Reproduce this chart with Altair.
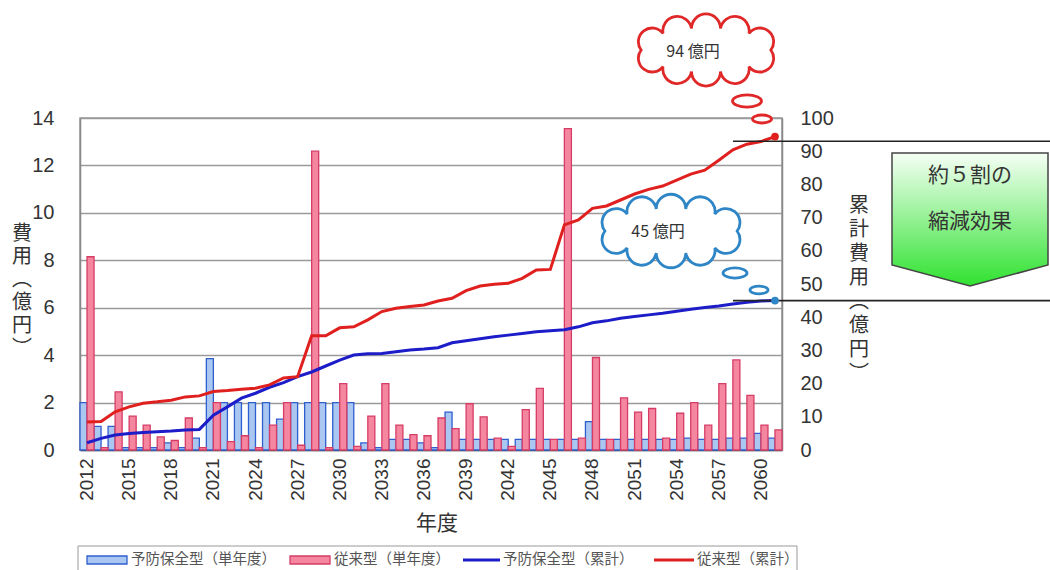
import altair as alt
import numpy as np
import pandas as pd

# ---------------- data ----------------
years = list(range(2012, 2062))
tick_years = list(range(2012, 2061, 3))
left_ticks = [0, 2, 4, 6, 8, 10, 12, 14]
right_ticks = [0, 10, 20, 30, 40, 50, 60, 70, 80, 90, 100]

series_names = ["予防保全型（単年度）", "従来型（単年度）", "予防保全型（累計）", "従来型（累計）"]

preventive_single = [
    2.0, 1.0, 1.0, 0.1, 0.1, 0.1, 0.3, 0.1, 0.5, 3.85,
    2.0, 2.0, 2.0, 2.0, 1.3, 2.0, 2.0, 2.0, 2.0, 2.0,
    0.3, 0.1, 0.45, 0.45, 0.3, 0.1, 1.6, 0.45, 0.45, 0.45,
    0.45, 0.45, 0.45, 0.45, 0.45, 0.45, 1.2, 0.45, 0.45, 0.45,
    0.45, 0.45, 0.45, 0.5, 0.45, 0.45, 0.5, 0.5, 0.7, 0.5,
]
conventional_single = [
    8.15, 0.1, 2.45, 1.43, 1.05, 0.55, 0.4, 1.35, 0.1, 2.0,
    0.35, 0.6, 0.1, 1.05, 2.0, 0.2, 12.6, 0.1, 2.8, 0.15,
    1.43, 2.8, 1.05, 0.65, 0.6, 1.35, 0.9, 1.95, 1.4, 0.5,
    0.15, 1.7, 2.6, 0.45, 13.55, 0.5, 3.9, 0.45, 2.2, 1.6,
    1.75, 0.5, 1.55, 2.0, 1.05, 2.8, 3.8, 2.3, 1.05, 0.85,
]
preventive_cum = [
    2.2, 3.5, 4.5, 5.0, 5.3, 5.5, 5.7, 6.0, 6.2, 10.5,
    13.0, 15.6, 17.1, 18.9, 20.3, 22.1, 23.5, 25.3, 27.1, 28.6,
    29.0, 29.1, 29.6, 30.1, 30.4, 30.8, 32.3, 32.9, 33.5, 34.1,
    34.6, 35.1, 35.6, 35.9, 36.2, 37.1, 38.3, 38.9, 39.7, 40.2,
    40.7, 41.2, 41.8, 42.4, 42.9, 43.4, 44.0, 44.5, 44.9, 45.0,
]
conventional_cum = [
    8.4, 8.6, 11.5, 13.0, 14.1, 14.5, 15.0, 16.0, 16.3, 17.6,
    17.9, 18.3, 18.6, 19.6, 21.7, 22.1, 34.4, 34.4, 36.8, 37.1,
    39.2, 41.7, 42.7, 43.2, 43.7, 44.9, 45.7, 48.0, 49.4, 49.9,
    50.2, 51.7, 54.2, 54.4, 67.8, 69.3, 72.8, 73.5, 75.3, 77.1,
    78.5, 79.5, 81.3, 83.1, 84.3, 87.3, 90.4, 92.1, 92.9, 94.4,
]
guide_values = [93.0, 45.0]
cloud_labels = ["94 億円", "45 億円"]
reduction_text = ["約５割の", "縮減効果"]
left_title = ["費", "用", "︵", "億", "円", "︶"]
right_title = ["累", "計", "費", "用", "︵", "億", "円", "︶"]
x_title = "年度"

# ---------------- layout ----------------
W, H = 702, 332
PL, PT = 80, 118
JP = "Noto Sans CJK JP"
NUM = "Liberation Sans"

BLUE_FILL, BLUE_EDGE = "#a9c7f0", "#2f5fcf"
PINK_FILL, PINK_EDGE = "#f4879f", "#d63c66"
BLUE_LINE, RED_LINE = "#1c1cc8", "#e0201e"
CLOUD_RED, CLOUD_BLUE = "#e02828", "#2f86c6"


def px(x, y):
    return dict(x=alt.value(x - PL), y=alt.value(y - PT))


one = alt.Data(values=[{}])

bars_df = pd.DataFrame({
    "year": years * 2,
    "series": [series_names[0]] * len(years) + [series_names[1]] * len(years),
    "value": preventive_single + conventional_single,
})
blue_cum_df = pd.DataFrame({"year": years, "value": preventive_cum})
red_cum_df = pd.DataFrame({"year": years, "value": conventional_cum})
guide_df = pd.DataFrame({"value": guide_values})

x_enc = alt.X(
    "year:O",
    scale=alt.Scale(paddingInner=0, paddingOuter=0),
    axis=alt.Axis(values=tick_years, labelAngle=-90, labelFontSize=19, labelFont=NUM,
                  labelColor="#333", labelPadding=8, tickSize=0, domainColor="#555",
                  domainWidth=1.5, title=None, grid=False),
)

bars = alt.Chart(bars_df).mark_bar(strokeWidth=1.3, opacity=1).encode(
    x=x_enc,
    xOffset=alt.XOffset("series:N", sort=series_names[:2],
                        scale=alt.Scale(paddingInner=0, paddingOuter=0)),
    y=alt.Y("value:Q", scale=alt.Scale(domain=[0, 14], nice=False),
            axis=alt.Axis(values=left_ticks, labelFontSize=20, labelFont=NUM, labelColor="#333",
                          labelPadding=26, tickSize=0, domainColor="#888", domainWidth=1.5,
                          grid=True, gridColor="#9a9a9a", gridWidth=1.5, title=None)),
    fill=alt.Fill("series:N", scale=alt.Scale(domain=series_names[:2], range=[BLUE_FILL, PINK_FILL]),
                  legend=None),
    stroke=alt.Stroke("series:N", scale=alt.Scale(domain=series_names[:2], range=[BLUE_EDGE, PINK_EDGE]),
                      legend=None),
)

y_right = alt.Y("value:Q", scale=alt.Scale(domain=[0, 100], nice=False),
                axis=alt.Axis(orient="right", values=right_ticks, labelFontSize=20, labelFont=NUM,
                              labelColor="#333", labelPadding=18, tickSize=0, domainColor="#888",
                              domainWidth=1.5, grid=False, title=None))

line_blue = alt.Chart(blue_cum_df).mark_line(color=BLUE_LINE, strokeWidth=3).encode(x="year:O", y=y_right)
line_red = alt.Chart(red_cum_df).mark_line(color=RED_LINE, strokeWidth=3).encode(x="year:O", y=y_right)
guides = alt.Chart(guide_df).mark_rule(color="#222", strokeWidth=1.6).encode(
    y=y_right, x=alt.value(733 - PL), x2=alt.value(1050 - PL))
dot_red = alt.Chart(red_cum_df.tail(1)).mark_point(filled=True, color=RED_LINE, size=60, opacity=1).encode(
    x="year:O", y=y_right)
dot_blue = alt.Chart(blue_cum_df.tail(1)).mark_point(filled=True, color=CLOUD_BLUE, size=60, opacity=1).encode(
    x="year:O", y=y_right)

right_layer = alt.layer(line_blue, line_red, guides, dot_red, dot_blue)


# ---------------- annotations ----------------
def cloud_path(n=10, a=0.82, b=0.28, k=0.5):
    t = np.linspace(0, 2 * np.pi, 4000)
    xs, ys = a * np.cos(t), b * np.sin(t)
    s = np.concatenate([[0], np.cumsum(np.hypot(np.diff(xs), np.diff(ys)))])
    ti = np.interp(np.linspace(0, s[-1], n + 1), s, t)
    ptx, pty = a * np.cos(ti), b * np.sin(ti)
    d = f"M {ptx[0]:.4f} {pty[0]:.4f}"
    for i in range(1, n + 1):
        c = np.hypot(ptx[i] - ptx[i - 1], pty[i] - pty[i - 1])
        r = c * k
        d += f" A {r:.4f} {r:.4f} 0 0 1 {ptx[i]:.4f} {pty[i]:.4f}"
    return d + " Z"


CLOUD = cloud_path()
OVAL = "M -1 0 A 1 0.42 0 1 1 1 0 A 1 0.42 0 1 1 -1 0 Z"
ARROW = "M -1 -0.853 L 1 -0.853 L 1 0.583 L 0 0.853 L -1 0.583 Z"


def shape(x, y, path, size, stroke, fill="white", sw=2.8):
    return alt.Chart(one).mark_point(shape=path, size=size, filled=False, fill=fill, stroke=stroke,
                                     strokeWidth=sw, opacity=1, fillOpacity=1).encode(**px(x, y))


def label(x, y, text, size=16, color="#333", font=JP, align="center", baseline="middle", **kw):
    return alt.Chart(one).mark_text(text=text, fontSize=size, font=font, color=color, align=align,
                                    baseline=baseline, **kw).encode(**px(x, y))


annotations = [
    shape(706, 50, CLOUD, 25000, CLOUD_RED),
    shape(747, 101, OVAL, 841, CLOUD_RED),
    shape(762, 119, OVAL, 361, CLOUD_RED),
    label(693, 52, cloud_labels[0], size=16),
    shape(671, 231, CLOUD, 26000, CLOUD_BLUE),
    shape(735, 273, OVAL, 576, CLOUD_BLUE),
    shape(759, 290, OVAL, 324, CLOUD_BLUE),
    label(658, 232, cloud_labels[1], size=16),
    alt.Chart(one).mark_point(
        shape=ARROW, size=24336, filled=True, opacity=1, stroke="#444", strokeWidth=1.5,
        fill={"gradient": "linear", "x1": 0, "y1": 0, "x2": 0, "y2": 1,
              "stops": [{"offset": 0, "color": "#f6fff6"}, {"offset": 1, "color": "#2fe22f"}]},
    ).encode(**px(970, 219.5)),
    label(970, 176, reduction_text[0], size=21),
    label(970, 222, reduction_text[1], size=21),
    label(22, 224, left_title, size=20, baseline="top", lineHeight=23),
    label(859, 196, right_title, size=20, baseline="top", lineHeight=24),
    label(437, 524, x_title, size=21),
    # legend
    alt.Chart(one).mark_rect(fill="white", fillOpacity=0, stroke="#999", strokeWidth=1).encode(
        x=alt.value(78 - PL), x2=alt.value(797 - PL), y=alt.value(546 - PT), y2=alt.value(578 - PT)),
    alt.Chart(one).mark_rect(fill=BLUE_FILL, stroke=BLUE_EDGE, strokeWidth=1.3).encode(
        x=alt.value(87 - PL), x2=alt.value(127 - PL), y=alt.value(556 - PT), y2=alt.value(564 - PT)),
    label(131, 560, series_names[0], size=14.5, color="#555", align="left"),
    alt.Chart(one).mark_rect(fill=PINK_FILL, stroke=PINK_EDGE, strokeWidth=1.3).encode(
        x=alt.value(290 - PL), x2=alt.value(330 - PL), y=alt.value(556 - PT), y2=alt.value(564 - PT)),
    label(334, 560, series_names[1], size=14.5, color="#555", align="left"),
    alt.Chart(one).mark_rule(color=BLUE_LINE, strokeWidth=3).encode(
        x=alt.value(463 - PL), x2=alt.value(500 - PL), y=alt.value(560 - PT)),
    label(503, 560, series_names[2], size=14.5, color="#555", align="left"),
    alt.Chart(one).mark_rule(color=RED_LINE, strokeWidth=3).encode(
        x=alt.value(654 - PL), x2=alt.value(694 - PL), y=alt.value(560 - PT)),
    label(697, 560, series_names[3], size=14.5, color="#555", align="left"),
]

chart = alt.layer(bars, right_layer, *annotations).resolve_scale(y="independent").properties(
    width=W, height=H,
    autosize=alt.AutoSizeParams(type="none"),
    padding={"left": PL, "top": PT, "right": 1050 - PL - W, "bottom": 570 - PT - H},
    background="white",
).configure_view(stroke="#999", strokeWidth=1.5)

chart.save("out.html", embed_options={"renderer": "svg", "actions": False})
